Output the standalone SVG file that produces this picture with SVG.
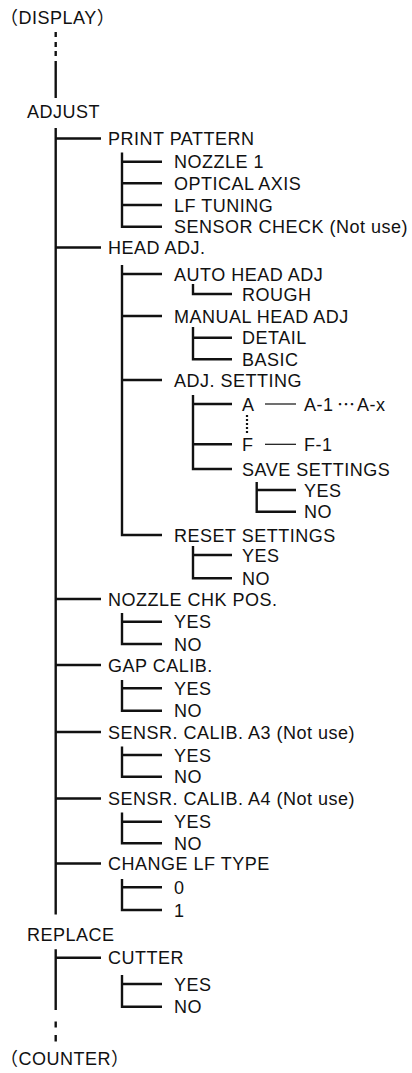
<svg xmlns="http://www.w3.org/2000/svg" width="412" height="1073" viewBox="0 0 412 1073">
<style>
text{font-family:"Liberation Sans",Arial,"Noto Sans CJK JP",sans-serif;font-size:18px;letter-spacing:0.5px;fill:#111}
.c path,.c line{stroke:#111;stroke-width:2.4;fill:none;stroke-linejoin:miter;stroke-linecap:butt}
.c .thin{stroke-width:1.2}
.c .dot{stroke-width:2.2;stroke-dasharray:2 2}
</style>
<rect width="412" height="1073" fill="#fff"/>
<g class="c" id="connectors">
<!-- top dashed + solid -->
<line x1="55.7" y1="32" x2="55.7" y2="37"/>
<line x1="55.7" y1="42" x2="55.7" y2="47"/>
<line x1="55.7" y1="51" x2="55.7" y2="56"/>
<line x1="55.7" y1="61" x2="55.7" y2="98"/>
<!-- ADJUST main -->
<path d="M55.7,128 V914.5"/>
<path d="M55.7,138.5 H101 M55.7,247.5 H101 M55.7,599 H101 M55.7,665 H101 M55.7,732 H101 M55.7,798.5 H101 M55.7,863.5 H101"/>
<!-- PRINT PATTERN -->
<path d="M122,152.5 V226.7 H162 M122,161.7 H162 M122,183.3 H162 M122,205 H162"/>
<!-- HEAD ADJ -->
<path d="M122,265 V535 H162 M122,274 H162 M122,316 H162 M122,380 H162"/>
<!-- AUTO HEAD ADJ -->
<path d="M193,284 V294 H232"/>
<!-- MANUAL -->
<path d="M193,327 V359.3 H232 M193,337.7 H232"/>
<!-- ADJ SETTING -->
<path d="M193,395 V469 H232 M193,404 H232 M193,444.3 H232"/>
<line class="thin" x1="265" y1="404" x2="296" y2="404"/>
<line class="thin" x1="265" y1="444.3" x2="296" y2="444.3"/>
<line class="dot" x1="247" y1="415" x2="247" y2="433"/>
<!-- SAVE SETTINGS -->
<path d="M256.7,482 V511.7 H296 M256.7,490 H296"/>
<!-- RESET -->
<path d="M193,546 V578.3 H232 M193,555 H232"/>
<!-- NOZZLE CHK -->
<path d="M122,613 V644 H162 M122,621.7 H162"/>
<!-- GAP -->
<path d="M122,680 V710.7 H162 M122,688.3 H162"/>
<!-- A3 -->
<path d="M122,746.5 V776.7 H162 M122,755 H162"/>
<!-- A4 -->
<path d="M122,812.5 V843.3 H162 M122,821.7 H162"/>
<!-- CHANGE LF -->
<path d="M122,879 V910 H162 M122,887.3 H162"/>
<!-- REPLACE -->
<path d="M55.7,949.3 V1010 M55.7,957.7 H101"/>
<path d="M122,975 V1006.7 H162 M122,984 H162"/>
<line x1="55.7" y1="1021.5" x2="55.7" y2="1027.5"/>
<line x1="55.7" y1="1035" x2="55.7" y2="1041.5"/>
</g>
<g id="display"><text x="0" y="24">（DISPLAY）</text></g>
<g id="adjust"><text x="27" y="118">ADJUST</text></g>
<g id="print-pattern"><text x="108" y="145">PRINT PATTERN</text></g>
<g id="nozzle1"><text x="174" y="168.2">NOZZLE 1</text></g>
<g id="optical-axis"><text x="174" y="189.8">OPTICAL AXIS</text></g>
<g id="lf-tuning"><text x="174" y="211.5">LF TUNING</text></g>
<g id="sensor-check"><text x="174" y="233.2">SENSOR CHECK (Not use)</text></g>
<g id="head-adj"><text x="108" y="254">HEAD ADJ.</text></g>
<g id="auto-head-adj"><text x="174" y="280.5">AUTO HEAD ADJ</text></g>
<g id="rough"><text x="242" y="300.5">ROUGH</text></g>
<g id="manual-head-adj"><text x="174" y="322.5">MANUAL HEAD ADJ</text></g>
<g id="detail"><text x="242" y="344.2">DETAIL</text></g>
<g id="basic"><text x="242" y="365.8">BASIC</text></g>
<g id="adj-setting"><text x="174" y="386.5">ADJ. SETTING</text></g>
<g id="a"><text x="242" y="410.5">A</text></g>
<g id="a-range"><text x="304" y="410.5">A-1</text><text x="337" y="410.5">⋯</text><text x="357" y="410.5">A-x</text></g>
<g id="f"><text x="242" y="450.8">F</text></g>
<g id="f-1"><text x="304" y="450.8">F-1</text></g>
<g id="save-settings"><text x="242" y="475.5">SAVE SETTINGS</text></g>
<g id="save-yes"><text x="304" y="496.5">YES</text></g>
<g id="save-no"><text x="304" y="518.2">NO</text></g>
<g id="reset-settings"><text x="174" y="541.5">RESET SETTINGS</text></g>
<g id="reset-yes"><text x="242" y="561.5">YES</text></g>
<g id="reset-no"><text x="242" y="584.8">NO</text></g>
<g id="nozzle-chk"><text x="108" y="605.5">NOZZLE CHK POS.</text></g>
<g id="nozzle-yes"><text x="174" y="628.2">YES</text></g>
<g id="nozzle-no"><text x="174" y="650.5">NO</text></g>
<g id="gap-calib"><text x="108" y="671.5">GAP CALIB.</text></g>
<g id="gap-yes"><text x="174" y="694.8">YES</text></g>
<g id="gap-no"><text x="174" y="717.2">NO</text></g>
<g id="sensr-a3"><text x="108" y="738.5">SENSR. CALIB. A3 (Not use)</text></g>
<g id="a3-yes"><text x="174" y="761.5">YES</text></g>
<g id="a3-no"><text x="174" y="783.2">NO</text></g>
<g id="sensr-a4"><text x="108" y="805">SENSR. CALIB. A4 (Not use)</text></g>
<g id="a4-yes"><text x="174" y="828.2">YES</text></g>
<g id="a4-no"><text x="174" y="849.8">NO</text></g>
<g id="change-lf"><text x="108" y="870">CHANGE LF TYPE</text></g>
<g id="lf-0"><text x="174" y="893.8">0</text></g>
<g id="lf-1"><text x="174" y="916.5">1</text></g>
<g id="replace"><text x="27" y="941">REPLACE</text></g>
<g id="cutter"><text x="108" y="964.2">CUTTER</text></g>
<g id="cutter-yes"><text x="174" y="990.5">YES</text></g>
<g id="cutter-no"><text x="174" y="1013.2">NO</text></g>
<g id="counter"><text x="0" y="1065">（COUNTER）</text></g>
</svg>
